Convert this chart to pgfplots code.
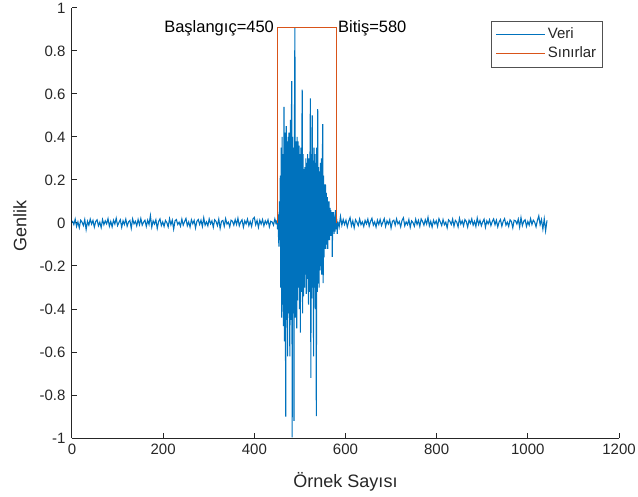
\documentclass[border=0pt]{standalone}
\usepackage{fontspec}
\setmainfont{Liberation Sans}
\usepackage{pgfplots}
\usepackage{pgfplotstable}
\pgfplotsset{compat=1.18}

\definecolor{mblue}{RGB}{0,114,189}
\definecolor{mred}{RGB}{217,83,25}
\definecolor{axc}{RGB}{38,38,38}

% noise before the event: samples 1,4,...,448
\pgfplotstableread{
y
0.010
-0.007
0.018
-0.016
0.005
-0.022
0.013
0.004
-0.012
0.016
-0.030
0.008
-0.010
0.018
-0.005
0.012
-0.019
0.007
0.015
-0.013
0.004
-0.021
0.016
-0.008
0.010
-0.004
0.020
-0.015
0.007
-0.018
0.013
-0.005
0.022
-0.012
0.002
0.015
-0.020
0.010
-0.007
0.018
-0.015
0.005
0.012
-0.024
0.019
-0.004
0.008
-0.013
0.016
-0.008
0.021
-0.010
0.004
0.013
-0.016
0.013
-0.007
0.034
-0.019
0.010
-0.005
0.015
-0.025
0.007
0.019
-0.012
0.005
-0.016
0.012
0.002
-0.018
0.020
-0.008
0.013
-0.028
0.010
0.016
-0.007
0.004
-0.015
0.018
-0.010
0.007
0.021
-0.013
0.005
-0.019
0.015
-0.004
0.012
-0.023
0.008
0.016
-0.007
0.013
-0.016
0.024
-0.010
0.005
-0.013
0.019
-0.004
0.010
-0.020
0.015
0.007
-0.012
0.018
-0.025
0.008
0.012
-0.015
0.020
-0.005
0.004
-0.018
0.013
0.008
-0.010
0.016
-0.007
0.022
-0.013
0.005
0.015
-0.019
0.010
-0.004
0.018
-0.012
0.007
-0.016
0.019
0.026
-0.008
0.012
-0.020
0.013
-0.005
0.016
-0.013
0.010
-0.004
0.015
-0.018
0.008
0.005
-0.010
0.019
-0.006
}\noiseA

% event: samples 448..583
\pgfplotstableread{
y
-0.006
0.010
0.01
-0.03
0.04
-0.06
-0.11
0.10
-0.08
0.22
-0.30
0.35
-0.44
0.40
-0.38
0.32
-0.48
0.54
-0.55
0.42
-0.40
-0.90
0.45
-0.45
0.38
-0.62
0.40
-0.42
0.42
-0.38
-0.62
0.48
-0.45
0.36
0.66
-0.997
0.40
-0.42
0.35
-0.92
0.45
0.908
-0.44
0.38
-0.35
-0.49
0.40
-0.36
0.38
-0.30
0.36
-0.40
0.32
-0.51
0.35
-0.32
0.28
0.62
-0.42
0.32
-0.34
0.25
-0.30
0.26
-0.24
0.30
-0.33
0.28
-0.26
0.32
-0.28
-0.38
0.30
-0.32
0.26
0.58
-0.72
0.32
-0.35
0.50
-0.30
0.29
-0.62
0.35
-0.30
0.32
-0.40
0.28
-0.898
0.35
-0.32
0.53
-0.28
0.26
-0.30
0.24
-0.22
0.28
-0.20
0.30
-0.24
0.20
0.46
-0.28
0.22
-0.16
0.18
-0.12
0.18
-0.12
0.14
-0.10
0.12
-0.12
0.10
-0.08
0.10
-0.08
0.07
-0.06
0.06
-0.06
0.05
-0.157
0.05
-0.04
0.05
-0.05
0.03
-0.04
0.06
-0.03
0.02
0.015
-0.05
0.006
}\event

% noise after the event: samples 583,586,...,1042
\pgfplotstableread{
y
0.006
-0.019
0.030
-0.010
0.016
-0.007
0.013
-0.018
0.008
0.025
-0.013
0.010
-0.022
0.015
0.004
-0.012
0.019
-0.008
0.005
-0.016
0.012
-0.004
0.018
-0.015
0.008
0.022
-0.010
0.005
-0.019
0.013
-0.007
0.016
-0.012
0.004
0.020
-0.016
0.010
-0.005
0.015
-0.023
0.008
0.013
-0.010
0.019
-0.004
0.007
-0.018
0.012
0.024
-0.013
0.005
-0.008
0.016
-0.020
0.010
0.002
-0.015
0.018
-0.007
0.012
-0.016
0.019
0.007
-0.010
0.015
-0.005
0.026
-0.013
0.008
-0.019
0.013
-0.004
0.010
-0.016
0.020
0.005
-0.012
0.016
-0.008
0.004
-0.022
0.015
0.008
-0.007
0.018
-0.015
0.012
0.004
-0.018
0.022
-0.005
0.010
-0.013
0.016
0.007
-0.019
0.013
-0.002
0.019
-0.010
0.008
-0.016
0.023
-0.007
0.012
-0.013
0.005
0.018
-0.020
0.010
-0.004
0.015
-0.012
0.007
0.019
-0.008
0.013
-0.018
0.005
0.016
-0.015
0.008
0.020
-0.010
0.004
-0.016
0.015
0.007
-0.022
0.013
0.010
-0.005
0.018
-0.019
0.025
-0.012
0.008
0.015
-0.016
0.007
-0.010
0.020
-0.007
0.013
0.004
-0.018
0.012
0.033
-0.008
0.016
-0.028
0.019
-0.036
0.012
}\noiseB

\begin{document}
\begin{tikzpicture}
\begin{axis}[
  scale only axis,
  width=547bp, height=430bp,
  xmin=0, xmax=1200, ymin=-1, ymax=1,
  axis x line*=bottom, axis y line*=left,
  axis line style={axc, line width=1bp},
  xtick={0,200,400,600,800,1000,1200},
  ytick={-1,-0.8,-0.6,-0.4,-0.2,0,0.2,0.4,0.6,0.8,1},
  tick align=inside,
  major tick length=5bp,
  tick style={axc, line width=1bp},
  /pgf/number format/assume math mode=true,
  /pgf/number format/1000 sep={},
  ticklabel style={font=\fontsize{15bp}{18bp}\selectfont, text=axc},
  xticklabel style={yshift=-3bp},
  yticklabel style={xshift=-3bp},
  xlabel={Örnek Sayısı},
  ylabel={Genlik},
  label style={font=\fontsize{18bp}{21bp}\selectfont, text=axc},
  xlabel style={at={(axis description cs:0.5,-0.102)}, anchor=center},
  ylabel style={at={(axis description cs:-0.095,0.493)}, anchor=center},
  legend style={
    at={(0.970,0.9705)}, anchor=north east,
    draw=axc!80, line width=0.75bp, fill=white,
    inner xsep=4bp, inner ysep=4bp, row sep=0bp,
    font=\fontsize{15bp}{18bp}\selectfont,
    nodes={inner xsep=2bp, inner ysep=2bp, text height=11bp, text depth=4bp, text=axc},
  },
  legend cell align=left,
  legend image code/.code={\draw[#1] (0bp,0bp) -- (49bp,0bp);},
]
\addplot[mblue, line width=1.1bp] table[x expr=\coordindex*3+1, y=y] {\noiseA};
\addlegendentry{Veri}
\addplot[mblue, line width=1.1bp, forget plot] table[x expr=\coordindex+448, y=y] {\event};
\addplot[mblue, line width=1.1bp, forget plot] table[x expr=\coordindex*3+583, y=y] {\noiseB};
\addplot[mred, line width=1bp] coordinates {(450,0) (450,0.908) (580,0.908) (580,0)};
\addlegendentry{Sınırlar}
\node[anchor=east, inner xsep=3bp, font=\fontsize{16.5bp}{19bp}\selectfont] at (axis cs:450,0.908) {Başlangıç=450};
\node[anchor=west, inner xsep=1.5bp, font=\fontsize{16.5bp}{19bp}\selectfont] at (axis cs:580,0.908) {Bitiş=580};
\end{axis}
\pgfresetboundingbox
\path[use as bounding box] (current axis.south west) ++(-72bp,-59bp) rectangle ++(638bp,497bp);
\end{tikzpicture}
\end{document}
